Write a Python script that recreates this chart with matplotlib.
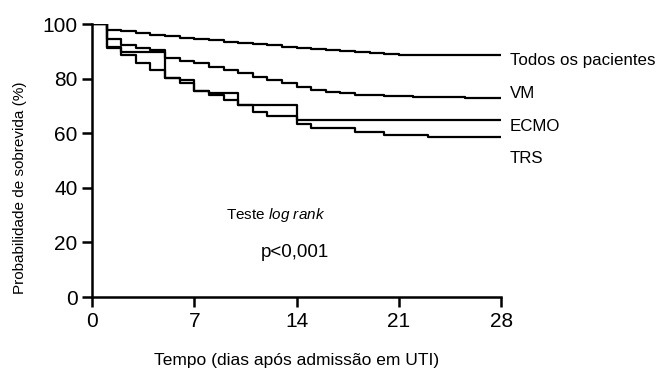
import matplotlib
matplotlib.use("Agg")
import matplotlib.pyplot as plt

plt.rcParams['font.family'] = ['Liberation Sans', 'DejaVu Sans']
plt.rcParams['mathtext.fontset'] = 'custom'
plt.rcParams['mathtext.it'] = 'Liberation Sans:italic'
plt.rcParams['mathtext.rm'] = 'Liberation Sans'

# Kaplan-Meier step data (day, survival %)
todos_t = [0, 1, 2, 3, 4, 5, 6, 7, 8, 9, 10, 11, 12, 13, 14, 15, 16, 17, 18, 19, 20, 21, 22, 28]
todos_s = [100, 98.0, 97.3, 96.7, 96.1, 95.5, 95.0, 94.5, 94.0, 93.5, 93.1, 92.6, 92.2, 91.7,
           91.2, 90.8, 90.4, 90.0, 89.6, 89.3, 89.0, 88.8, 88.5, 88.5]

vm_t = [0, 1, 2, 3, 4, 5, 6, 7, 8, 9, 10, 11, 12, 13, 14, 15, 16, 17, 18, 20, 22, 25.5, 28]
vm_s = [100, 94.7, 92.3, 91.1, 90.5, 87.4, 86.4, 85.6, 84.4, 83.2, 82.0, 80.7, 79.5, 78.3,
        77.0, 75.8, 75.2, 74.6, 74.0, 73.6, 73.3, 73.0, 73.0]

ecmo_t = [0, 1, 2, 5, 6, 7, 8, 10, 14, 28]
ecmo_s = [100, 91.5, 89.6, 80.1, 79.5, 75.5, 74.8, 70.3, 64.8, 64.8]

trs_t = [0, 1, 2, 3, 4, 5, 6, 7, 8, 9, 10, 11, 12, 14, 15, 18, 20, 23, 28]
trs_s = [100, 91.1, 88.6, 85.6, 83.2, 80.1, 78.3, 75.5, 74.0, 72.2, 70.3, 67.9, 66.5, 63.5,
         61.8, 60.6, 59.3, 58.5, 58.5]

series = [(todos_t, todos_s, "Todos os pacientes", 86.8),
          (vm_t, vm_s, "VM", 74.7),
          (ecmo_t, ecmo_s, "ECMO", 62.3),
          (trs_t, trs_s, "TRS", 50.9)]

fig = plt.figure(figsize=(6.62, 3.70), dpi=100)
ax = fig.add_axes([0.139, 0.197, 0.618, 0.738])

for t, s, name, label_y in series:
    ax.step(t, s, where='post', color='black', lw=1.6)
    ax.text(28.6, label_y, name, fontsize=12.2, va='center', ha='left', clip_on=False)

ax.set_xlim(0, 28)
ax.set_ylim(0, 100)
ax.set_xticks([0, 7, 14, 21, 28])
ax.set_yticks([0, 20, 40, 60, 80, 100])
ax.tick_params(axis='both', direction='out', length=7, width=1.8, labelsize=15)
for side in ['top', 'right']:
    ax.spines[side].set_visible(False)
for side in ['left', 'bottom']:
    ax.spines[side].set_linewidth(1.8)

ax.set_xlabel("Tempo (dias após admissão em UTI)", fontsize=12.5, labelpad=16)
ax.set_ylabel("Probabilidade de sobrevida (%)", fontsize=11)
ax.yaxis.set_label_coords(-0.16, 0.40)

ax.text(12.6, 30, "Teste $\\it{log\\ rank}$", fontsize=11, ha='center', va='center')
ax.text(13.9, 16.5, "p<0,001", fontsize=13.5, ha='center', va='center')

fig.savefig("out.png", dpi=100)
